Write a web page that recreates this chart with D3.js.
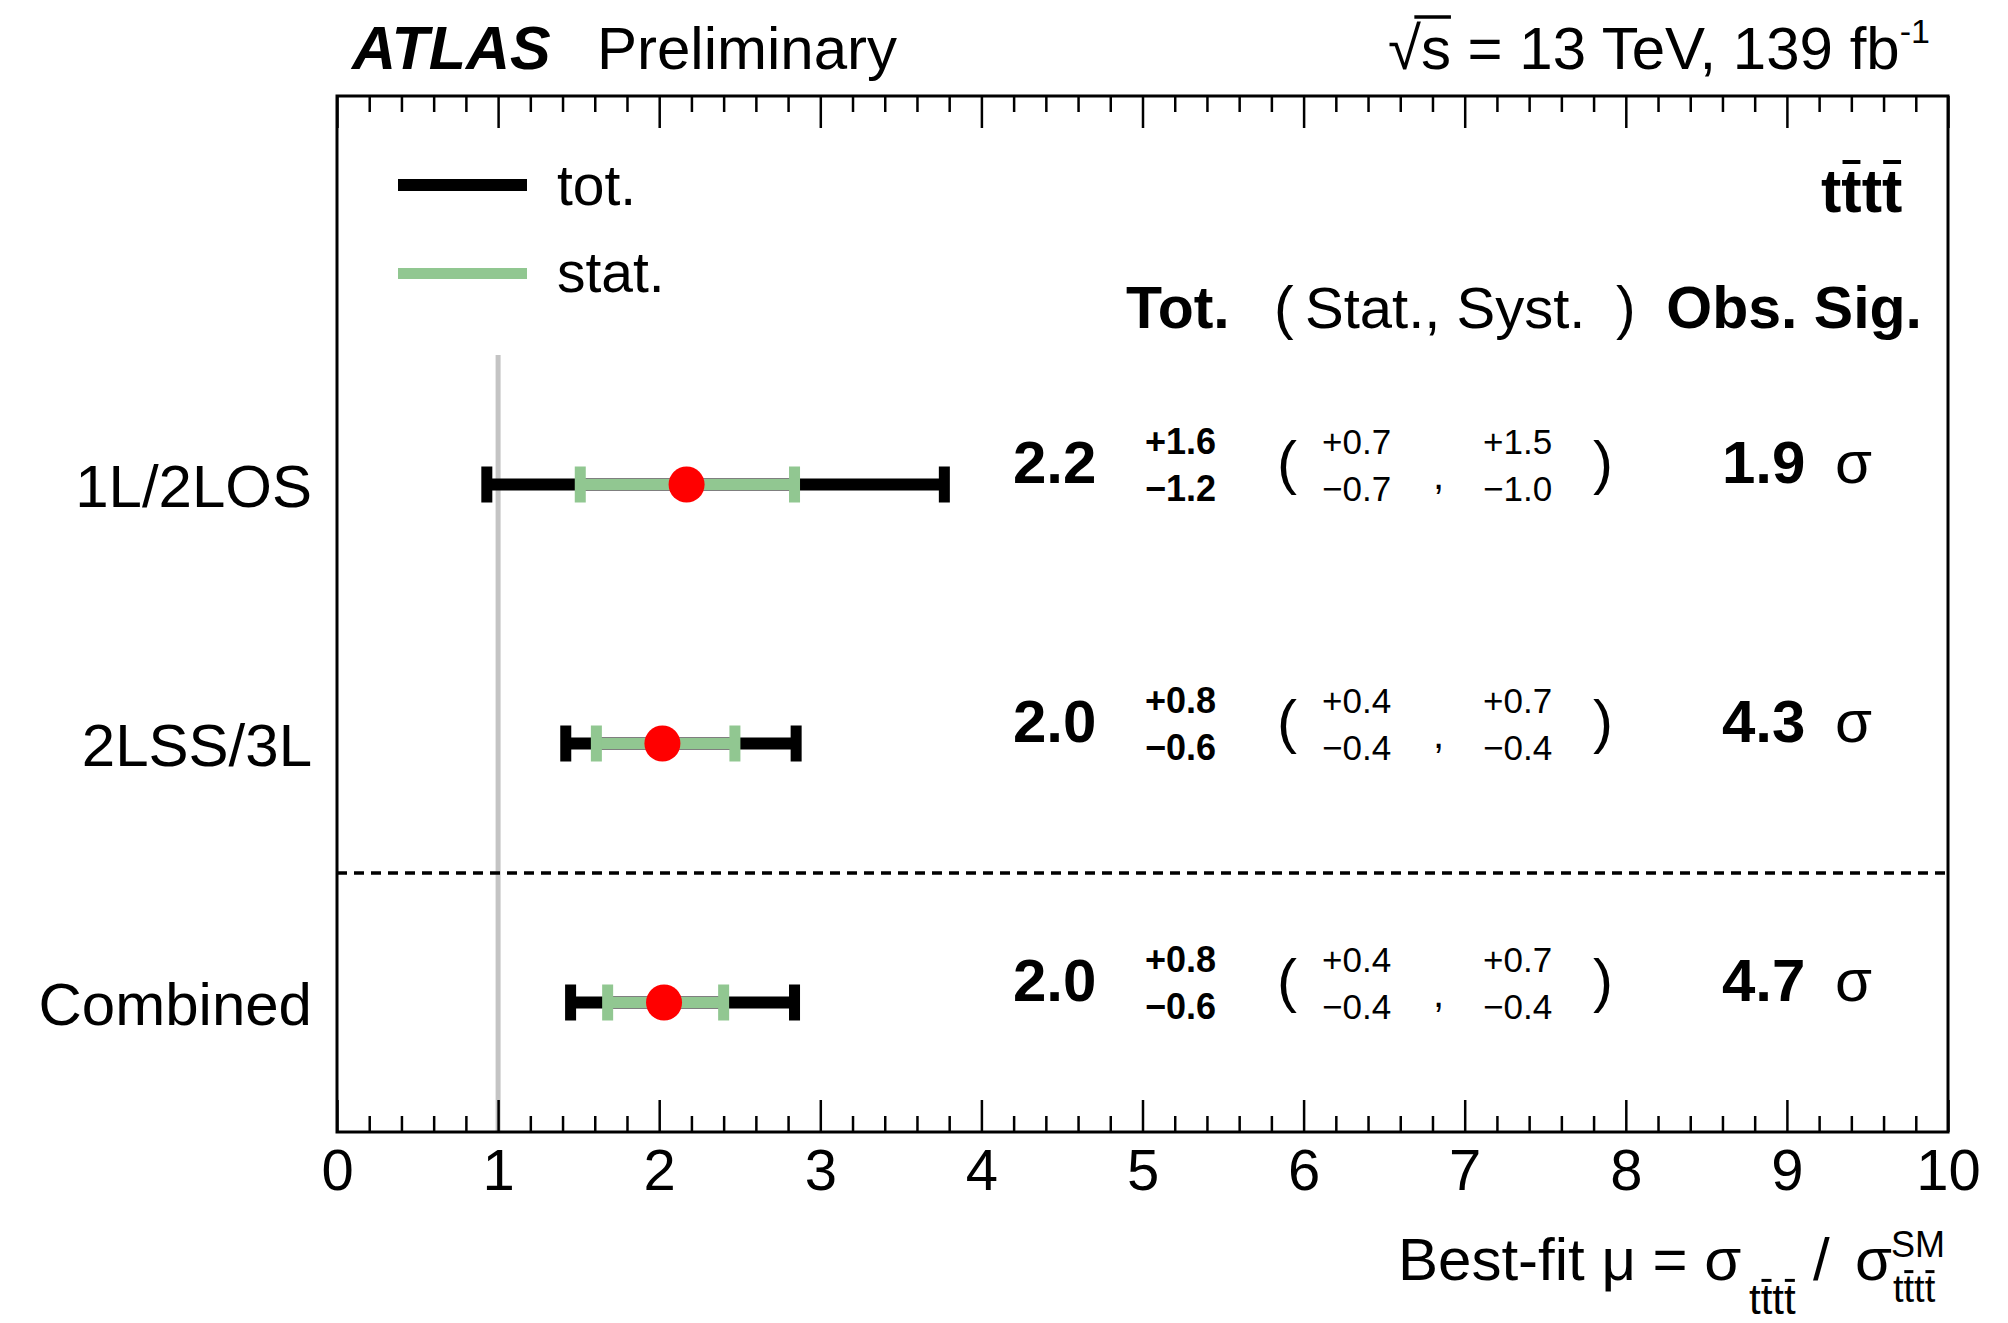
<!DOCTYPE html>
<html><head><meta charset="utf-8">
<script src="https://cdn.jsdelivr.net/npm/d3@7"></script>
<style>
body{margin:0;background:#fff;}
svg{display:block;}
text{font-family:"Liberation Sans",Arial,Helvetica,sans-serif;fill:#000;}
</style>
</head><body>
<svg id="c" width="2008" height="1323"></svg>
<script>
// ---------------- data ----------------
const categories = ["1L/2LOS", "2LSS/3L", "Combined"];
const rowPos     = [2.5, 1.5, 0.5];
const mu         = [2.17, 2.02, 2.03];
const totLo      = [0.93, 1.42, 1.45];
const totHi      = [3.77, 2.85, 2.84];
const statLo     = [1.51, 1.61, 1.68];
const statHi     = [2.84, 2.47, 2.40];
const muLabel    = ["2.2", "2.0", "2.0"];
const totUp      = ["+1.6", "+0.8", "+0.8"];
const totDn      = ["\u22121.2", "\u22120.6", "\u22120.6"];
const statUp     = ["+0.7", "+0.4", "+0.4"];
const statDn     = ["\u22120.7", "\u22120.4", "\u22120.4"];
const systUp     = ["+1.5", "+0.7", "+0.7"];
const systDn     = ["\u22121.0", "\u22120.4", "\u22120.4"];
const sigLabel   = ["1.9", "4.3", "4.7"];
const xTickValues = [0, 1, 2, 3, 4, 5, 6, 7, 8, 9, 10];
const xDomain = [0, 10];
const yDomain = [0, 4];
const smRef = 1;          // SM reference line
const smRefTop = 3;
const separatorPos = 1;   // dashed separator

// ---------------- setup ----------------
const svg = d3.select("#c");
const L = 337, R = 1948, T = 96, B = 1132;
const x = d3.scaleLinear().domain(xDomain).range([L, R]);
const y = d3.scaleLinear().domain(yDomain).range([B, T]);
const GREEN = "#91c791", RED = "#ff0000";
const FONT = '"Liberation Sans",Arial,Helvetica,sans-serif';

// SM reference line
svg.append("line").attr("x1", x(smRef)).attr("x2", x(smRef))
  .attr("y1", y(0)).attr("y2", y(smRefTop))
  .attr("stroke", "#c4c4c4").attr("stroke-width", 5);

// dashed separator
svg.append("line").attr("x1", L).attr("x2", R)
  .attr("y1", y(separatorPos)).attr("y2", y(separatorPos))
  .attr("stroke", "#000").attr("stroke-width", 3.5).attr("stroke-dasharray", "10,7");

// axes (ticks inward)
const minorVals = d3.range(0, 50).map(i => i * 0.2).filter(v => Math.abs(v - Math.round(v)) > 1e-6);
function tickAxis(gen, ty, vals, len, fmt) {
  const g = svg.append("g").attr("transform", `translate(0,${ty})`)
    .call(gen(x).tickValues(vals).tickSizeInner(len).tickSizeOuter(0).tickFormat(fmt));
  g.select(".domain").remove();
  g.selectAll(".tick line").attr("stroke", "#000").attr("stroke-width", 2.5);
  return g;
}
const gb = tickAxis(d3.axisBottom, B, xTickValues, -32, d3.format("d"));
gb.selectAll(".tick text").attr("y", 0).attr("dy", 0)
  .attr("transform", "translate(0,58)")
  .style("font-family", FONT).style("font-size", "58px").attr("fill", "#000");
tickAxis(d3.axisBottom, B, minorVals, -16, () => "");
tickAxis(d3.axisTop, T, xTickValues, -32, () => "");
tickAxis(d3.axisTop, T, minorVals, -16, () => "");

// frame
svg.append("rect").attr("x", L).attr("y", T).attr("width", R - L).attr("height", B - T)
  .attr("fill", "none").attr("stroke", "#000").attr("stroke-width", 3);

// rows
const rows = svg.selectAll("g.row").data(categories).join("g").attr("class", "row")
  .attr("transform", (d, i) => `translate(0,${y(rowPos[i])})`);

rows.append("line").attr("x1", (d, i) => x(totLo[i])).attr("x2", (d, i) => x(totHi[i]))
  .attr("stroke", "#000").attr("stroke-width", 12);
rows.each(function (d, i) {
  const g = d3.select(this);
  [totLo[i], totHi[i]].forEach(v => g.append("rect").attr("x", x(v) - 5.5).attr("y", -18)
    .attr("width", 11).attr("height", 36).attr("fill", "#000"));
  g.append("line").attr("x1", x(statLo[i])).attr("x2", x(statHi[i]))
    .attr("stroke", GREEN).attr("stroke-width", 11);
  [statLo[i], statHi[i]].forEach(v => g.append("rect").attr("x", x(v) - 5.5).attr("y", -18)
    .attr("width", 11).attr("height", 36).attr("fill", GREEN));
  g.append("circle").attr("cx", x(mu[i])).attr("cy", 0).attr("r", 18).attr("fill", RED);
});

function txt(g, s, px, py, size, opts = {}) {
  return g.append("text").attr("x", px).attr("y", py).text(s)
    .style("font-size", size + "px")
    .style("font-weight", opts.bold ? "bold" : "normal")
    .style("font-style", opts.italic ? "italic" : "normal")
    .attr("text-anchor", opts.anchor || "start");
}

rows.each(function (d, i) {
  const g = d3.select(this);
  txt(g, d, 312, 22, 60, { anchor: "end" });
  txt(g, muLabel[i], 1013, -2, 60, { bold: true });
  txt(g, totUp[i], 1145, -31, 36, { bold: true });
  txt(g, totDn[i], 1145, 16, 36, { bold: true });
  txt(g, "(", 1277, -2, 60);
  txt(g, statUp[i], 1322, -31, 35);
  txt(g, statDn[i], 1322, 16, 35);
  txt(g, ",", 1433, 4, 40);
  txt(g, systUp[i], 1483, -31, 35);
  txt(g, systDn[i], 1483, 16, 35);
  txt(g, ")", 1593, -2, 60);
  txt(g, sigLabel[i], 1722, -2, 60, { bold: true });
  txt(g, "\u03c3", 1835, -2, 60);
});

// header
txt(svg, "Tot.", 1126, 328, 59, { bold: true });
txt(svg, "(", 1274, 328, 59);
txt(svg, "Stat., Syst.", 1305, 328, 58);
txt(svg, ")", 1616, 328, 59);
txt(svg, "Obs. Sig.", 1922, 328, 59, { bold: true, anchor: "end" });

// overbar helper
function overbar(t, idxs, size, frac, w) {
  const node = t.node();
  idxs.forEach(k => {
    const e = node.getExtentOfChar(k);
    const base = +t.attr("y");
    svg.append("line").attr("x1", e.x + size * 0.02).attr("x2", e.x + e.width - size * 0.02)
      .attr("y1", base - frac * size).attr("y2", base - frac * size)
      .attr("stroke", "#000").attr("stroke-width", w);
  });
}

// tttt label
const t4 = txt(svg, "tttt", 1821, 212, 61, { bold: true });
overbar(t4, [1, 3], 61, 0.82, 4);

// legend
svg.append("line").attr("x1", 398).attr("x2", 527).attr("y1", 185).attr("y2", 185)
  .attr("stroke", "#000").attr("stroke-width", 12);
svg.append("line").attr("x1", 398).attr("x2", 527).attr("y1", 273.5).attr("y2", 273.5)
  .attr("stroke", GREEN).attr("stroke-width", 11);
txt(svg, "tot.", 557, 205, 57);
txt(svg, "stat.", 557, 292, 57);

// title
txt(svg, "ATLAS", 352, 69, 61, { bold: true, italic: true });
txt(svg, "Preliminary", 597, 69, 60);
const lum = txt(svg, "\u221as = 13 TeV, 139 fb", 1388, 69, 60);
lum.append("tspan").attr("dy", -26).style("font-size", "34px").text("-1");
{
  const e0 = lum.node().getExtentOfChar(0), e1 = lum.node().getExtentOfChar(1);
  svg.append("line").attr("x1", e0.x + e0.width * 0.8).attr("x2", e1.x + e1.width)
    .attr("y1", 17).attr("y2", 17).attr("stroke", "#000").attr("stroke-width", 3.5);
}

// x-axis title
txt(svg, "Best-fit \u03bc = \u03c3", 1398, 1280, 60);
const s1 = txt(svg, "tttt", 1749, 1314, 42);
overbar(s1, [1, 3], 42, 0.8, 3);
txt(svg, "/", 1813, 1280, 60);
txt(svg, "\u03c3", 1855, 1280, 60);
txt(svg, "SM", 1891, 1257, 36);
const s2 = txt(svg, "tttt", 1893, 1302, 38);
overbar(s2, [1, 3], 38, 0.8, 3);
</script>
</body></html>
